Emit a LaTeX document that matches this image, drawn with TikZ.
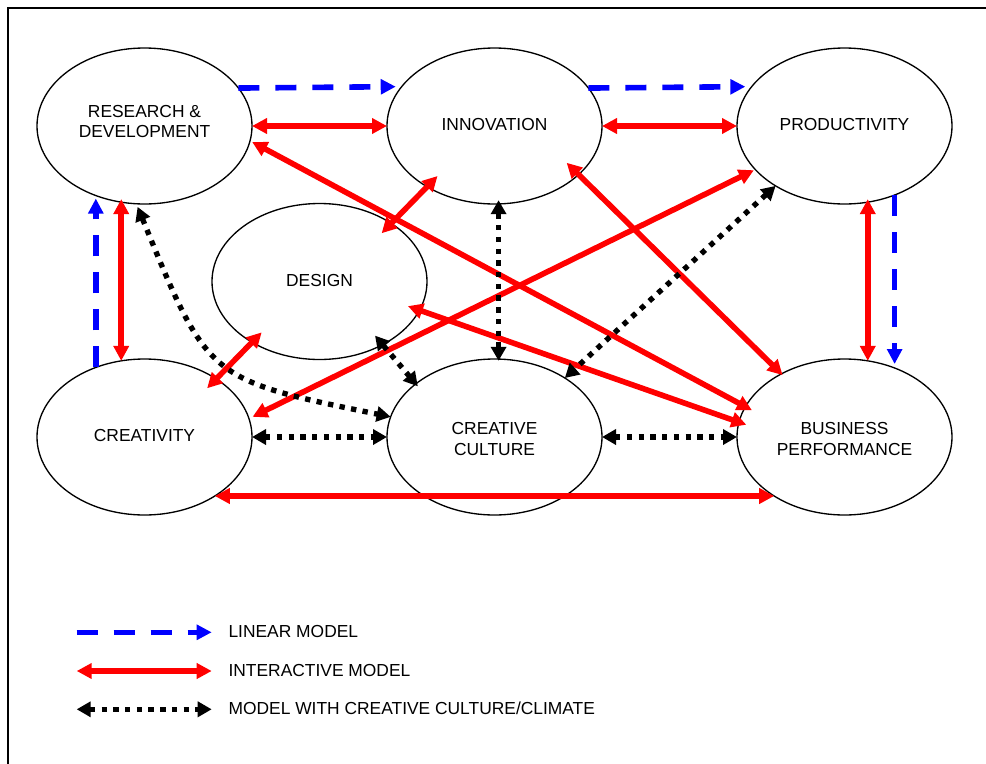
\documentclass[tikz,border=0pt]{standalone}
\usepackage{fontspec}
\setmainfont{Liberation Sans}
\usetikzlibrary{arrows.meta,shapes.geometric}
\begin{document}
\begin{tikzpicture}[x=0.75pt,y=-0.75pt,
  ell/.style={ellipse,draw=black,line width=1pt,fill=white,minimum width=161.25pt,minimum height=117pt,inner sep=0pt,outer sep=0pt,align=center,font=\fontsize{13.05pt}{15.4pt}\selectfont},
  lin/.style={draw=blue,line width=4.2pt,dash pattern=on 15.75pt off 12pt,-{Triangle[length=11.25pt,width=11pt]}},
  inter/.style={draw=red,line width=4.2pt,{Triangle[length=11.25pt,width=11.25pt]}-{Triangle[length=11.25pt,width=11.25pt]}},
  crea/.style={draw=black,line width=4pt,dash pattern=on 4pt off 4.8pt,{Triangle[length=10.5pt,width=11.25pt]}-{Triangle[length=10.5pt,width=11.25pt]}},
  lab/.style={anchor=base west,inner sep=0pt,font=\fontsize{13.05pt}{15.4pt}\selectfont},
  frame/.style={draw=black,line width=1.5pt}
]
\useasboundingbox (0,0) rectangle (986,764);
% frame
\coordinate (f1) at (8.3,766);
\coordinate (f2) at (8.3,7.7);
\coordinate (f3) at (988,7.7);
\draw[frame] (f1) -- (f2) -- (f3);

% ellipses
\node[ell] (RD)   at (144.5,126) {};
\node[ell] (INN)  at (494.5,126) {};
\node[ell] (PROD) at (844.5,126) {};
\node[ell] (DES)  at (319.5,281.5) {};
\node[ell] (CRE)  at (144.5,437) {};
\node[ell] (CC)   at (494.5,437) {};
\node[ell] (BP)   at (844.5,437) {};
\node[align=center,inner sep=0pt,font=\fontsize{13.05pt}{15.4pt}\selectfont] (RDt) at (144.5,121.5) {RESEARCH \&\\DEVELOPMENT};
\node[inner sep=0pt,font=\fontsize{13.05pt}{15.4pt}\selectfont] (INNt) at (494.5,124.5) {INNOVATION};
\node[inner sep=0pt,font=\fontsize{13.05pt}{15.4pt}\selectfont] (PRODt) at (844.5,124.5) {PRODUCTIVITY};
\node[inner sep=0pt,font=\fontsize{13.05pt}{15.4pt}\selectfont] (DESt) at (319.5,280.5) {DESIGN};
\node[inner sep=0pt,font=\fontsize{13.05pt}{15.4pt}\selectfont] (CREt) at (144.5,436) {CREATIVITY};
\node[align=center,inner sep=0pt,font=\fontsize{13.05pt}{15.4pt}\selectfont] (CCt) at (494.5,439) {CREATIVE\\CULTURE};
\node[align=center,inner sep=0pt,font=\fontsize{13.05pt}{15.4pt}\selectfont] (BPt) at (844.5,439) {BUSINESS\\PERFORMANCE};

% linear model (blue dashed)
\draw[lin,shorten >=4.5pt] (RD.22.7) -- (INN.157.3);
\draw[lin,shorten >=4.8pt] (INN.22.7) -- (PROD.157.3);
\draw[lin,shorten >=3pt] (PROD.-54.9) -- (BP.54.9);
\draw[lin,shorten >=2.25pt] (CRE.125.6) -- (RD.-125.6);

% interactive model (red)
\draw[inter] (RD.east) -- (INN.west);
\draw[inter] (INN.east) -- (PROD.west);
\draw[inter,shorten <=-2.25pt] (RD.-107.4) -- (CRE.107.4);
\draw[inter,shorten <=-2.25pt] (PROD.-73.1) -- (BP.73.1);
\draw[inter] (CRE.-40) -- (BP.-140);
\draw[inter,shorten <=1.8pt,shorten >=-5.5pt] (RD.-8.3) -- (BP.163.8);
\draw[inter,shorten <=-11.25pt,shorten >=-10.3pt] (INN.-138.8) -- (DES.39.5);
\draw[inter,shorten <=-12.6pt,shorten >=-1.35pt] (INN.-30.1) -- (BP.135.5);
\draw[inter,shorten <=1.2pt,shorten >=3pt] (PROD.-154.6) -- (CRE.10.6);
\draw[inter,shorten <=-9.15pt,shorten >=-5.85pt] (DES.-16.6) -- (BP.172);
\draw[inter,shorten <=-10.35pt,shorten >=-9.8pt] (DES.-138.5) -- (CRE.39.3);

% creative culture model (black dotted)
\draw[crea,shorten <=-2.8pt,shorten >=-1.3pt] (INN.-87.2) -- (CC.87.2);
\draw[crea] (CRE.east) -- (CC.west);
\draw[crea] (CC.east) -- (BP.west);
\draw[crea] (PROD.-139) -- (CC.40.5);
\draw[crea,shorten <=-8.85pt,shorten >=-2.4pt] (DES.-45.7) -- (CC.146.3);
\draw[crea,shorten <=2.5pt] (RD.-96.7) .. controls (208.2,379.8) .. (CC.169);

% legend
\coordinate (l1a) at (76.7,632.3); \coordinate (l1b) at (211.7,632.3);
\coordinate (l2a) at (76.7,671);   \coordinate (l2b) at (211.7,671);
\coordinate (l3a) at (76.7,709.3); \coordinate (l3b) at (211.7,709.3);
\draw[lin] (l1a) -- (l1b);
\draw[inter] (l2a) -- (l2b);
\draw[crea] (l3a) -- (l3b);
\node[lab] (t1) at (228.3,637.3) {LINEAR MODEL};
\node[lab] (t2) at (228.3,676) {INTERACTIVE MODEL};
\node[lab] (t3) at (228.3,714.3) {MODEL WITH CREATIVE CULTURE/CLIMATE};
\end{tikzpicture}
\end{document}
